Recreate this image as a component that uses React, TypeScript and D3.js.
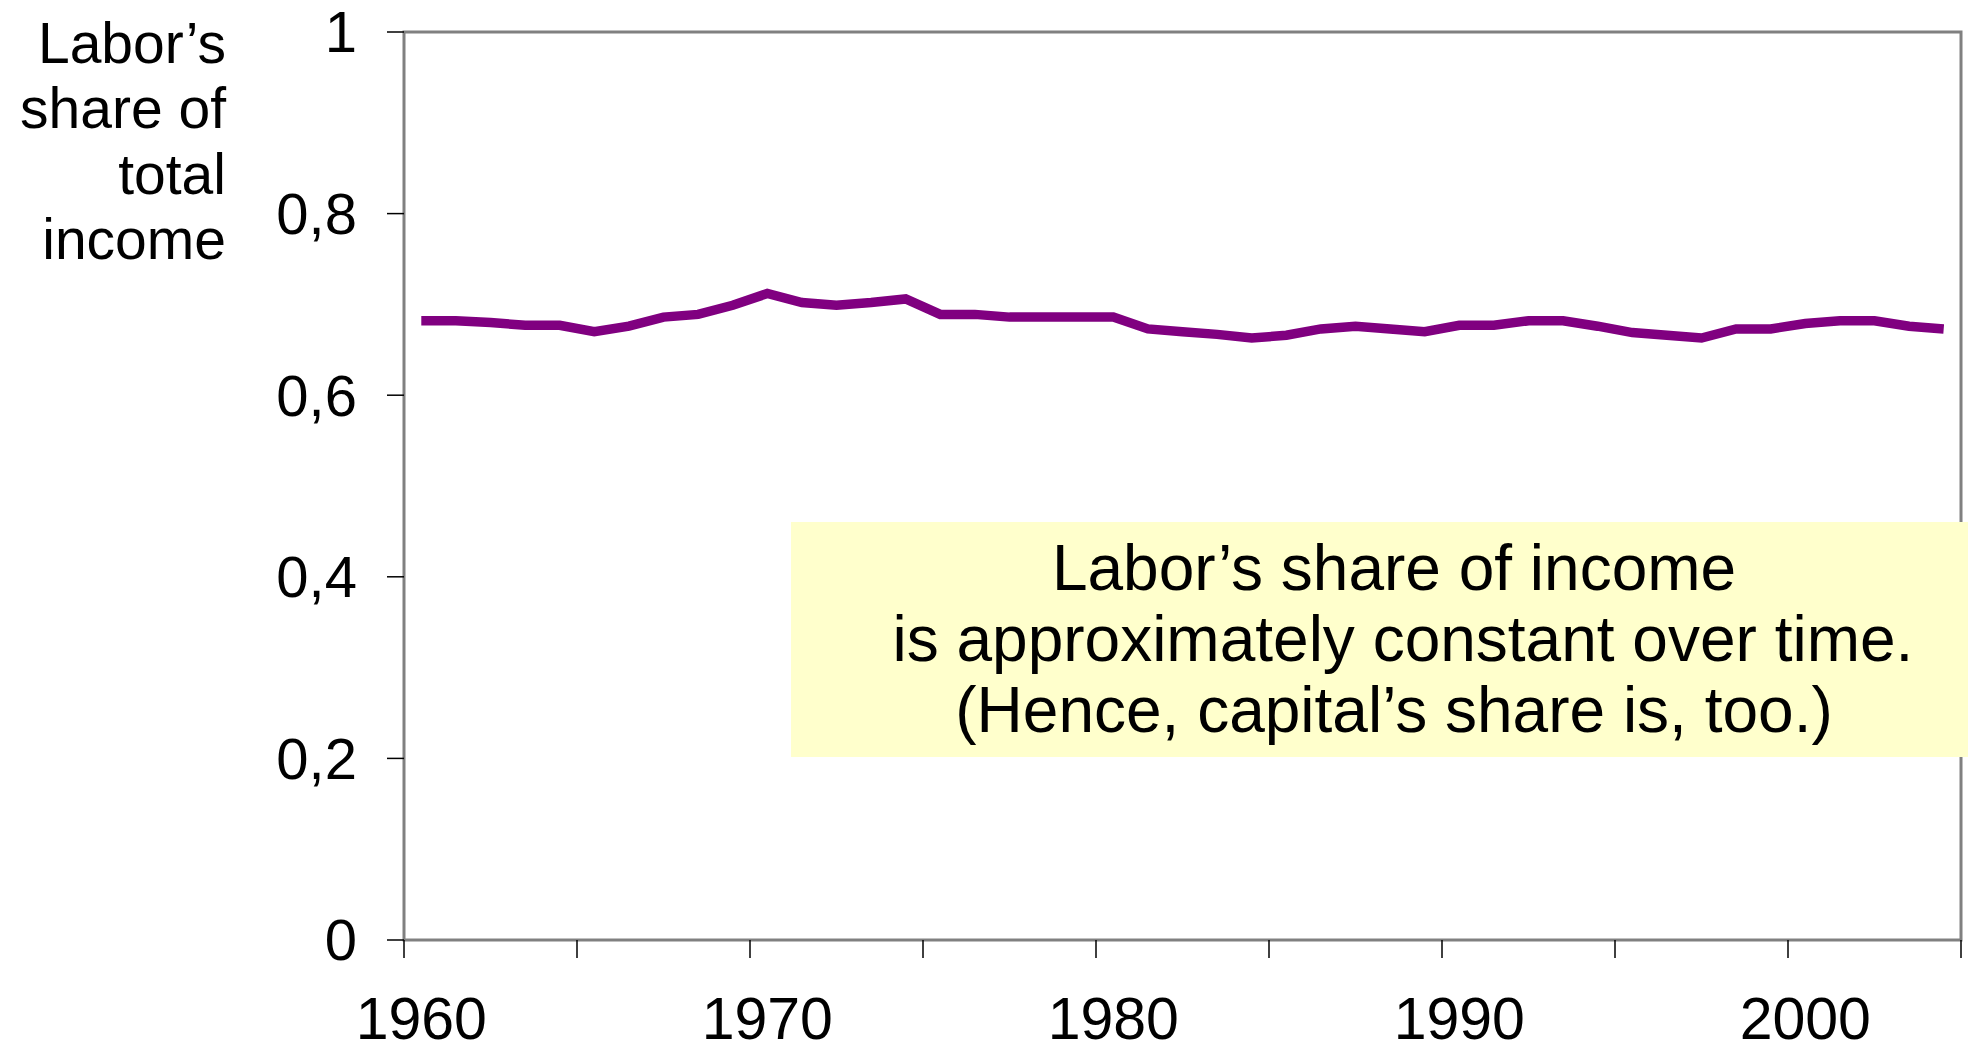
import React from "react";
import * as d3 from "d3";

const years: number[] = [
  1960, 1961, 1962, 1963, 1964, 1965, 1966, 1967, 1968, 1969,
  1970, 1971, 1972, 1973, 1974, 1975, 1976, 1977, 1978, 1979,
  1980, 1981, 1982, 1983, 1984, 1985, 1986, 1987, 1988, 1989,
  1990, 1991, 1992, 1993, 1994, 1995, 1996, 1997, 1998, 1999,
  2000, 2001, 2002, 2003, 2004,
];

const laborShare: number[] = [
  0.682, 0.682, 0.680, 0.677, 0.677, 0.670, 0.676, 0.686, 0.689, 0.699,
  0.712, 0.702, 0.699, 0.702, 0.706, 0.689, 0.689, 0.686, 0.686, 0.686,
  0.686, 0.673, 0.670, 0.667, 0.663, 0.666, 0.673, 0.676, 0.673, 0.670,
  0.677, 0.677, 0.682, 0.682, 0.676, 0.669, 0.666, 0.663, 0.673, 0.673,
  0.679, 0.682, 0.682, 0.676, 0.673,
];

const yTicks: number[] = [0, 0.2, 0.4, 0.6, 0.8, 1];
const yTickLabels: string[] = ["0", "0,2", "0,4", "0,6", "0,8", "1"];
const xLabelYears: number[] = [1960, 1970, 1980, 1990, 2000];
const xTickBoundaries: number[] = [0, 5, 10, 15, 20, 25, 30, 35, 40, 45];

const yTitleLines: string[] = ["Labor\u2019s", "share of", "total", "income"];
const noteLines: string[] = [
  "Labor\u2019s share of income",
  " is approximately constant over time.",
  "(Hence, capital\u2019s share is, too.)",
];

const W = 1968;
const H = 1051;
const left = 404;
const right = 1961;
const top = 32;
const bottom = 940;
const FONT = "'Liberation Sans', Arial, Helvetica, sans-serif";

export default function App() {
  const x = d3
    .scaleBand<number>()
    .domain(years)
    .range([left, right])
    .paddingInner(0)
    .paddingOuter(0);
  const bw = x.bandwidth();
  const y = d3.scaleLinear().domain([0, 1]).range([bottom, top]);

  const line = d3
    .line<number>()
    .x((_, i) => (x(years[i]) as number) + bw / 2)
    .y((d) => y(d));

  const boundaryX = (k: number) => left + k * bw;

  return (
    <svg
      width={W}
      height={H}
      style={{ position: "absolute", left: 0, top: 0, background: "#fff" }}
      fontFamily={FONT}
    >
      <rect x={0} y={0} width={W} height={H} fill="#ffffff" />
      {/* frame */}
      <rect
        x={left}
        y={y(1)}
        width={right - left}
        height={bottom - y(1)}
        fill="none"
        stroke="#808080"
        strokeWidth={3}
      />
      {/* y ticks */}
      {yTicks.map((t, i) => (
        <g key={"yt" + i}>
          <line
            x1={left - 17}
            x2={left}
            y1={y(t)}
            y2={y(t)}
            stroke="#000"
            strokeWidth={1.5}
          />
          <text
            x={357}
            y={y(t)}
            dy="0.35em"
            textAnchor="end"
            fontSize={58}
            fill="#000"
          >
            {yTickLabels[i]}
          </text>
        </g>
      ))}
      {/* x ticks */}
      {xTickBoundaries.map((k) => (
        <line
          key={"xt" + k}
          x1={boundaryX(k)}
          x2={boundaryX(k)}
          y1={bottom}
          y2={bottom + 18}
          stroke="#000"
          strokeWidth={1.5}
        />
      ))}
      {xLabelYears.map((yr) => (
        <text
          key={"xl" + yr}
          x={(x(yr) as number) + bw / 2}
          y={1039}
          textAnchor="middle"
          fontSize={59}
          fill="#000"
        >
          {yr}
        </text>
      ))}
      {/* y title */}
      {yTitleLines.map((s, i) => (
        <text
          key={"ytl" + i}
          x={226}
          y={63 + i * 65.3}
          textAnchor="end"
          fontSize={57}
          fill="#000"
        >
          {s}
        </text>
      ))}
      {/* data line */}
      <path
        d={line(laborShare) || ""}
        fill="none"
        stroke="#800080"
        strokeWidth={9.5}
        strokeLinejoin="miter"
      />
      {/* annotation box */}
      <rect x={791} y={522} width={W - 791} height={235} fill="#FFFFCC" />
      {noteLines.map((s, i) => (
        <text
          key={"nl" + i}
          x={1394}
          y={590 + i * 71}
          textAnchor="middle"
          fontSize={64}
          fill="#000"
          style={{ whiteSpace: "pre" }}
        >
          {s}
        </text>
      ))}
    </svg>
  );
}
